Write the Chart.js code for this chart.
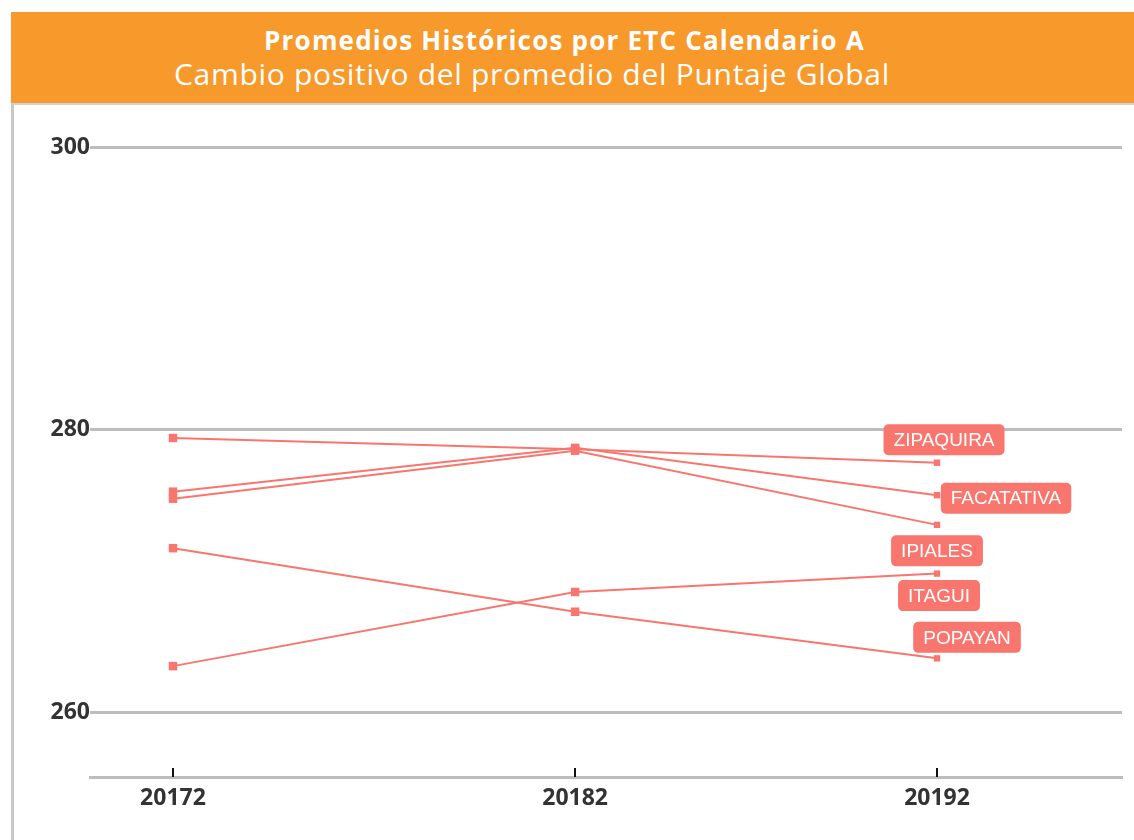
<!DOCTYPE html>
<html lang="es">
<head>
    <meta charset="UTF-8">
    <title>Promedios Históricos por ETC</title>
    <style>
        *{box-sizing:border-box}
        html,body{margin:0;padding:0;background:#fff;width:1134px;height:840px;overflow:hidden}
        #frame{position:absolute;left:11px;top:103px;width:1123px;height:737px;border-left:3px solid #c8c8c8;border-top:2px solid #d2d2d2}
        #header{position:absolute;left:11px;top:12px;width:1123px;height:91px;background:#f7992b;color:#fff;text-align:center}
        #header .t1{position:absolute;left:0;width:1107px;top:13px;font:700 26px 'Open Sans',sans-serif;line-height:30px;letter-spacing:1.2px;white-space:nowrap}
        #header .t2{position:absolute;left:0;width:1042px;top:44px;font:400 30px 'Open Sans',sans-serif;line-height:36px;letter-spacing:0.7px;white-space:nowrap}
        #wrap{position:absolute;left:0;top:0;width:1134px;height:840px}
    </style>
    <script src="https://cdn.jsdelivr.net/npm/chart.js@4/dist/chart.umd.min.js"></script>
</head>
<body>
    <div id="frame"></div>
    <div id="header">
        <div class="t1">Promedios Históricos por ETC Calendario A</div>
        <div class="t2">Cambio positivo del promedio del Puntaje Global</div>
    </div>
    <div id="wrap"><canvas id="chart" width="1134" height="840"></canvas></div>

    <script>
        // Periods (x axis) and where they sit on the time line
        const periods = ['20172', '20182', '20192'];
        const periodX = [0, 1, 1.9];

        // Average global score per ETC
        const etcNames = ['ZIPAQUIRA', 'FACATATIVA', 'IPIALES', 'ITAGUI', 'POPAYAN'];
        const zipaquira = [279.4, 278.6, 277.65];
        const facatativa = [275.6, 278.7, 275.35];
        const ipiales = [275.1, 278.5, 273.25];
        const itagui = [263.25, 268.5, 269.8];
        const popayan = [271.6, 267.1, 263.8];

        const yTicks = [260, 280, 300];

        const lineColor = '#f8766d';
        const seriesValues = [zipaquira, facatativa, ipiales, itagui, popayan];

        // Label box offsets from the last point (repelled like in the original)
        const labelOffsets = {
            ZIPAQUIRA: [7, -23],
            FACATATIVA: [69, 3],
            IPIALES: [0, 26],
            ITAGUI: [2, 22],
            POPAYAN: [30, -21]
        };

        const endLabels = {
            id: 'endLabels',
            afterDatasetsDraw(chart) {
                const ctx = chart.ctx;
                ctx.save();
                ctx.font = '19px "Liberation Sans", Arial, sans-serif';
                ctx.textAlign = 'center';
                ctx.textBaseline = 'middle';
                chart.data.datasets.forEach((ds, i) => {
                    const pt = chart.getDatasetMeta(i).data[ds.data.length - 1];
                    const off = labelOffsets[ds.label];
                    const cx = pt.x + off[0];
                    const cy = pt.y + off[1];
                    const w = ctx.measureText(ds.label).width + 20;
                    const h = 31;
                    ctx.fillStyle = lineColor;
                    ctx.beginPath();
                    ctx.roundRect(cx - w / 2, cy - h / 2, w, h, 5);
                    ctx.fill();
                    ctx.fillStyle = '#fff';
                    ctx.fillText(ds.label, cx, cy + 1);
                });
                ctx.restore();
            }
        };

        // Small upward tick marks on the x axis
        const xTickMarks = {
            id: 'xTickMarks',
            afterDraw(chart) {
                const scale = chart.scales.x;
                const ctx = chart.ctx;
                ctx.save();
                ctx.strokeStyle = '#111';
                ctx.lineWidth = 2;
                periodX.forEach(v => {
                    const px = Math.round(scale.getPixelForValue(v));
                    ctx.beginPath();
                    ctx.moveTo(px, scale.top - 9);
                    ctx.lineTo(px, scale.top);
                    ctx.stroke();
                });
                ctx.restore();
            }
        };

        const datasets = etcNames.map((name, i) => ({
            label: name,
            data: seriesValues[i].map((v, j) => ({ x: periodX[j], y: v })),
            borderColor: lineColor,
            backgroundColor: lineColor,
            borderWidth: 2,
            pointStyle: 'rect',
            pointRadius: [6, 6, 4.5],
            pointBorderWidth: 0,
            tension: 0
        }));

        const tickFont = { family: 'Open Sans', size: 23, weight: 'bold' };

        new Chart(document.getElementById('chart'), {
            type: 'line',
            data: { datasets },
            options: {
                responsive: false,
                animation: false,
                layout: { padding: { top: 147, right: 12, left: 0, bottom: 0 } },
                plugins: { legend: { display: false }, tooltip: { enabled: false } },
                scales: {
                    x: {
                        type: 'linear',
                        min: -0.2064,
                        max: 2.36,
                        afterBuildTicks: scale => { scale.ticks = periodX.map(v => ({ value: v })); },
                        afterFit: scale => { scale.height = 63; },
                        grid: { display: true, color: 'rgba(0,0,0,0)', drawTicks: false },
                        border: { display: true, color: '#bdbdbd', width: 3 },
                        ticks: {
                            padding: 8,
                            color: '#333',
                            font: tickFont,
                            callback: (v, i) => periods[i],
                            maxRotation: 0
                        }
                    },
                    y: {
                        min: 255.4,
                        max: 300,
                        afterBuildTicks: scale => { scale.ticks = yTicks.map(v => ({ value: v })); },
                        afterFit: scale => { scale.width = 90; },
                        grid: { color: '#bdbdbd', lineWidth: 3, drawTicks: false },
                        border: { display: false },
                        ticks: {
                            padding: 0,
                            color: '#333',
                            font: tickFont
                        }
                    }
                }
            },
            plugins: [endLabels, xTickMarks]
        });
    </script>
</body>
</html>
